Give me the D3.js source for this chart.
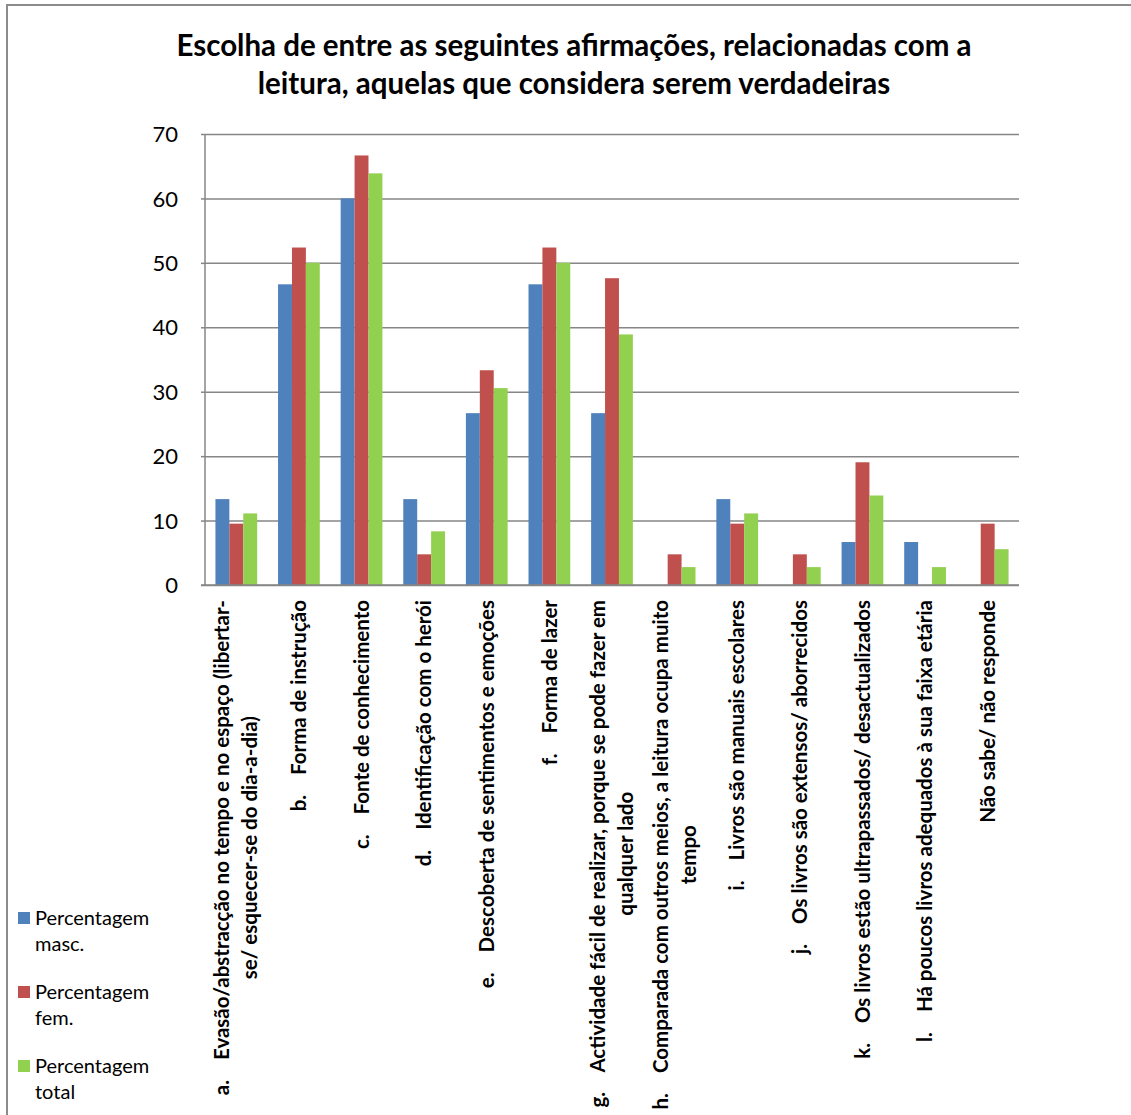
<!DOCTYPE html>
<html>
<head>
<meta charset="utf-8">
<script src="https://cdn.jsdelivr.net/npm/d3@7/dist/d3.min.js"></script>
<style>
  html, body { margin: 0; padding: 0; background: #fff; }
  svg { display: block; font-family: Lato, "Open Sans", sans-serif; }
</style>
</head>
<body>
<svg id="chart" width="1131" height="1115"></svg>
<script>
// ---- data ----
const titleLines = [
  "Escolha de entre as seguintes afirmações, relacionadas com a",
  "leitura, aquelas que considera serem verdadeiras"
];
const categoryPrefixes = ["a.", "b.", "c.", "d.", "e.", "f.", "g.", "h.", "i.", "j.", "k.", "l.", ""];
const categoryLines = [
  ["Evasão/abstracção no tempo e no espaço (libertar-", "se/ esquecer-se do dia-a-dia)"],
  ["Forma de instrução"],
  ["Fonte de conhecimento"],
  ["Identificação com o herói"],
  ["Descoberta de sentimentos e emoções"],
  ["Forma de lazer"],
  ["Actividade fácil de realizar, porque se pode fazer em", "qualquer lado"],
  ["Comparada com outros meios, a leitura ocupa muito", "tempo"],
  ["Livros são manuais escolares"],
  ["Os livros são extensos/ aborrecidos"],
  ["Os livros estão ultrapassados/ desactualizados"],
  ["Há poucos livros adequados à sua faixa etária"],
  ["Não sabe/ não responde"]
];
const seriesNames = [["Percentagem", "masc."], ["Percentagem", "fem."], ["Percentagem", "total"]];
const masc  = [13.33, 46.67, 60.0, 13.33, 26.67, 46.67, 26.67, 0, 13.33, 0, 6.67, 6.67, 0];
const fem   = [9.52, 52.38, 66.67, 4.76, 33.33, 52.38, 47.62, 4.76, 9.52, 4.76, 19.05, 0, 9.52];
const total = [11.11, 50.0, 63.89, 8.33, 30.56, 50.0, 38.89, 2.78, 11.11, 2.78, 13.89, 2.78, 5.56];
const yTicks = [0, 10, 20, 30, 40, 50, 60, 70];
const colors = ["#4F81BD", "#C0504D", "#92D050"];

// ---- layout ----
const svg = d3.select("#chart");
const plot = { left: 205, right: 1019, top: 134, bottom: 585 };
const gridColor = "#868686";

// outer frame (cropped at right/bottom)
svg.append("path")
  .attr("d", "M7,1115 L7,5 L1131,5")
  .attr("fill", "none").attr("stroke", "#8c8c8c").attr("stroke-width", 2);

// title
const title = svg.append("text")
  .attr("text-anchor", "middle")
  .attr("font-weight", "bold")
  .attr("font-size", 29.5)
  .attr("fill", "#000");
titleLines.forEach((t, i) => {
  title.append("tspan").attr("x", 574).attr("y", 56 + i * 38).text(t);
});

// scales
const idx = d3.range(categoryLines.length);
const x = d3.scaleBand().domain(idx).range([plot.left, plot.right])
  .paddingInner(1 / 3).paddingOuter(1 / 6);
const xs = d3.scaleBand().domain([0, 1, 2]).range([0, x.bandwidth()]);
const y = d3.scaleLinear().domain([0, 70]).range([plot.bottom, plot.top]);

// gridlines
const yAxis = d3.axisLeft(y).tickValues(yTicks).tickSize(-(plot.right - plot.left)).tickSizeOuter(0).tickPadding(27);
const gy = svg.append("g").attr("transform", `translate(${plot.left},0)`).call(yAxis);
gy.select(".domain").remove();
gy.selectAll(".tick line").attr("stroke", gridColor).attr("stroke-width", 1.5);
gy.selectAll(".tick text")
  .attr("font-size", 22).attr("fill", "#000")
  .attr("font-family", "Lato, sans-serif").attr("dy", "0.35em");
// small outward tick marks
gy.selectAll(".tick").append("line")
  .attr("x1", -4).attr("x2", 0).attr("stroke", gridColor).attr("stroke-width", 1.5);

// bars
const series = [masc, fem, total];
series.forEach((vals, s) => {
  svg.append("g").selectAll("rect")
    .data(vals)
    .join("rect")
    .attr("x", (d, i) => x(i) + xs(s))
    .attr("width", xs.bandwidth())
    .attr("y", d => y(d))
    .attr("height", d => y(0) - y(d))
    .attr("fill", colors[s]);
});

// axes lines
svg.append("line").attr("x1", plot.left).attr("x2", plot.left)
  .attr("y1", plot.top).attr("y2", plot.bottom)
  .attr("stroke", gridColor).attr("stroke-width", 1.5);
svg.append("line").attr("x1", plot.left - 4).attr("x2", plot.right)
  .attr("y1", plot.bottom).attr("y2", plot.bottom)
  .attr("stroke", gridColor).attr("stroke-width", 1.5);

// category labels (rotated, text end at top)
const labFs = 20.5;
const lineH = 28;
const labTop = 600;
idx.forEach(i => {
  const cx = x(i) + x.bandwidth() / 2;
  const g = svg.append("g").attr("transform", `translate(${cx},${labTop}) rotate(-90)`);
  const lines = categoryLines[i];
  const n = lines.length;
  const texts = lines.map((ln, j) => {
    const t = g.append("text")
      .attr("font-size", labFs).attr("font-weight", "bold").attr("fill", "#000")
      .attr("text-anchor", "middle")
      .attr("y", (j - (n - 1) / 2) * lineH + 0.35 * labFs)
      .style("white-space", "pre");
    const content = (j === 0 && categoryPrefixes[i]) ? categoryPrefixes[i] + "\u00a0\u00a0\u00a0\u00a0" + ln : ln;
    t.text(content);
    return t;
  });
  const L = d3.max(texts, t => t.node().getComputedTextLength());
  texts.forEach(t => t.attr("x", -L / 2));
});

// legend
seriesNames.forEach((nm, s) => {
  const by = 925 + s * 74;
  svg.append("rect").attr("x", 18).attr("y", by - 13).attr("width", 12).attr("height", 12).attr("fill", colors[s]);
  const t = svg.append("text").attr("font-size", 20).attr("fill", "#000");
  nm.forEach((w, k) => t.append("tspan").attr("x", 35).attr("y", by + k * 26).text(w));
});
</script>
</body>
</html>
